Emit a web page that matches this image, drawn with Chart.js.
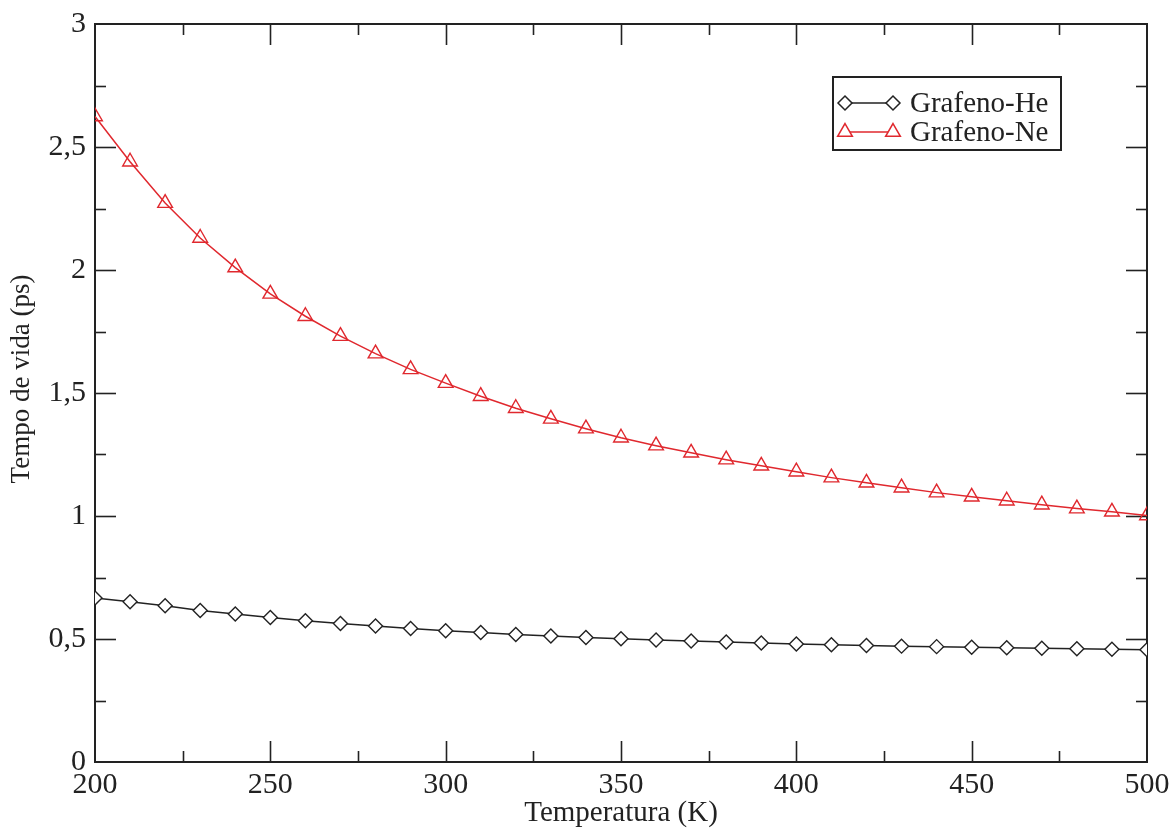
<!DOCTYPE html>
<html>
<head>
<meta charset="utf-8">
<script src="https://cdn.jsdelivr.net/npm/chart.js@4/dist/chart.umd.min.js"></script>
<style>
  html, body { margin: 0; padding: 0; background: #fff; }
  #wrap { width: 1174px; height: 831px; }
</style>
</head>
<body>
<div id="wrap"><canvas id="lifeChart"></canvas></div>
<script>
  // temperatures (K)
  const temps = [200, 210, 220, 230, 240, 250, 260, 270, 280, 290, 300, 310, 320, 330, 340, 350,
                 360, 370, 380, 390, 400, 410, 420, 430, 440, 450, 460, 470, 480, 490, 500];
  // lifetime (ps)
  const heLife = [0.667, 0.651, 0.635, 0.616, 0.602, 0.587, 0.574, 0.563, 0.553, 0.543, 0.534, 0.526,
                  0.518, 0.512, 0.506, 0.501, 0.496, 0.492, 0.488, 0.484, 0.480, 0.477, 0.474, 0.471,
                  0.469, 0.466, 0.464, 0.462, 0.460, 0.458, 0.456];
  const neLife = [2.624, 2.440, 2.272, 2.130, 2.010, 1.903, 1.812, 1.731, 1.660, 1.596, 1.540, 1.487,
                  1.438, 1.395, 1.355, 1.318, 1.286, 1.257, 1.229, 1.204, 1.180, 1.156, 1.135, 1.115,
                  1.095, 1.078, 1.062, 1.046, 1.030, 1.017, 1.002];
  const seriesNames = ['Grafeno-He', 'Grafeno-Ne'];
  const X_MIN = 200, X_MAX = 500, X_MAJOR = 50, X_MINOR = 25;
  const Y_MIN = 0, Y_MAX = 3, Y_MAJOR = 0.5, Y_MINOR = 0.25;

  const FONT = "'Liberation Serif', 'DejaVu Serif', serif";
  const INK = '#222';
  const RED = '#e0282e';

  const pts = (ys) => temps.map((t, i) => ({ x: t, y: ys[i] }));
  const comma = (v) => String(v).replace('.', ',');

  // inward ticks on all four sides + frame, y title drawn here
  const frameTicks = {
    id: 'frameTicks',
    beforeDatasetsDraw(chart) {
      const { ctx, chartArea: a, scales: { x, y } } = chart;
      ctx.save();
      ctx.strokeStyle = INK;
      ctx.lineWidth = 1.6;
      const seg = (x1, y1, x2, y2) => { ctx.beginPath(); ctx.moveTo(x1, y1); ctx.lineTo(x2, y2); ctx.stroke(); };
      for (let v = X_MIN + X_MINOR; v < X_MAX; v += X_MINOR) {
        const px = Math.round(x.getPixelForValue(v)) + 0.5;
        const len = (v % X_MAJOR === 0) ? 21 : 11;
        seg(px, a.bottom, px, a.bottom - len);
        seg(px, a.top, px, a.top + len);
      }
      for (let v = Y_MIN + Y_MINOR; v < Y_MAX - 1e-9; v += Y_MINOR) {
        const py = Math.round(y.getPixelForValue(v)) + 0.5;
        const len = (Math.abs(v / Y_MAJOR - Math.round(v / Y_MAJOR)) < 1e-6) ? 21 : 11;
        seg(a.left, py, a.left + len, py);
        seg(a.right, py, a.right - len, py);
      }
      ctx.lineWidth = 2;
      ctx.strokeRect(a.left, a.top, a.right - a.left, a.bottom - a.top);

      // y axis title
      ctx.translate(22, a.top + 355);
      ctx.rotate(-Math.PI / 2);
      ctx.fillStyle = INK;
      ctx.font = '27px ' + FONT;
      ctx.textAlign = 'center';
      ctx.textBaseline = 'middle';
      ctx.fillText('Tempo de vida (ps)', 0, 0);
      ctx.restore();
    }
  };

  // boxed legend in the upper right, xmgrace style
  const boxLegend = {
    id: 'boxLegend',
    afterDraw(chart) {
      const { ctx, chartArea: a } = chart;
      const bx = a.right - 314, by = a.top + 53, bw = 228, bh = 73;
      ctx.save();
      ctx.fillStyle = '#fff';
      ctx.fillRect(bx, by, bw, bh);
      ctx.strokeStyle = INK;
      ctx.lineWidth = 2;
      ctx.strokeRect(bx, by, bw, bh);
      chart.data.datasets.forEach((ds, i) => {
        const cy = by + 26 + i * 29;
        const x1 = bx + 12, x2 = bx + 60;
        ctx.strokeStyle = ds.borderColor;
        ctx.lineWidth = 1.5;
        ctx.beginPath(); ctx.moveTo(x1, cy); ctx.lineTo(x2, cy); ctx.stroke();
        ctx.fillStyle = '#fff';
        const style = { pointStyle: ds.pointStyle, radius: ds.pointRadius, rotation: 0, borderWidth: ds.pointBorderWidth };
        Chart.helpers.drawPoint(ctx, style, x1, cy);
        Chart.helpers.drawPoint(ctx, style, x2, cy);
        ctx.fillStyle = INK;
        ctx.font = '29px ' + FONT;
        ctx.textBaseline = 'middle';
        ctx.textAlign = 'left';
        ctx.fillText(ds.label, bx + 77, cy + 1);
      });
      ctx.restore();
    }
  };

  new Chart(document.getElementById('lifeChart'), {
    type: 'line',
    data: {
      datasets: [
        { label: seriesNames[0], data: pts(heLife), borderColor: INK, backgroundColor: '#fff',
          pointStyle: 'rectRot', pointRadius: 7, pointBorderWidth: 1.4, borderWidth: 1.5, tension: 0 },
        { label: seriesNames[1], data: pts(neLife), borderColor: RED, backgroundColor: 'rgba(0,0,0,0)',
          pointStyle: 'triangle', pointRadius: 8.5, pointBorderWidth: 1.4, borderWidth: 1.5, tension: 0 }
      ]
    },
    options: {
      responsive: true,
      maintainAspectRatio: false,
      animation: false,
      layout: { padding: { top: 24, right: 27, left: 0, bottom: 0 } },
      plugins: { legend: { display: false }, tooltip: { enabled: false } },
      scales: {
        x: {
          type: 'linear', min: X_MIN, max: X_MAX,
          grid: { display: false }, border: { display: false },
          ticks: { stepSize: X_MAJOR, color: INK, padding: -3, font: { family: FONT, size: 30 } },
          title: { display: true, text: 'Temperatura (K)', color: INK, padding: { top: 0, bottom: 0 },
                   font: { family: FONT, size: 29 } },
          afterFit(s) { s.height = 69; }
        },
        y: {
          type: 'linear', min: Y_MIN, max: Y_MAX,
          grid: { display: false }, border: { display: false },
          ticks: { stepSize: Y_MAJOR, color: INK, padding: 1, font: { family: FONT, size: 30 },
                   callback: (v) => comma(v) },
          afterFit(s) { s.width = 95; }
        }
      }
    },
    plugins: [frameTicks, boxLegend]
  });
</script>
</body>
</html>
